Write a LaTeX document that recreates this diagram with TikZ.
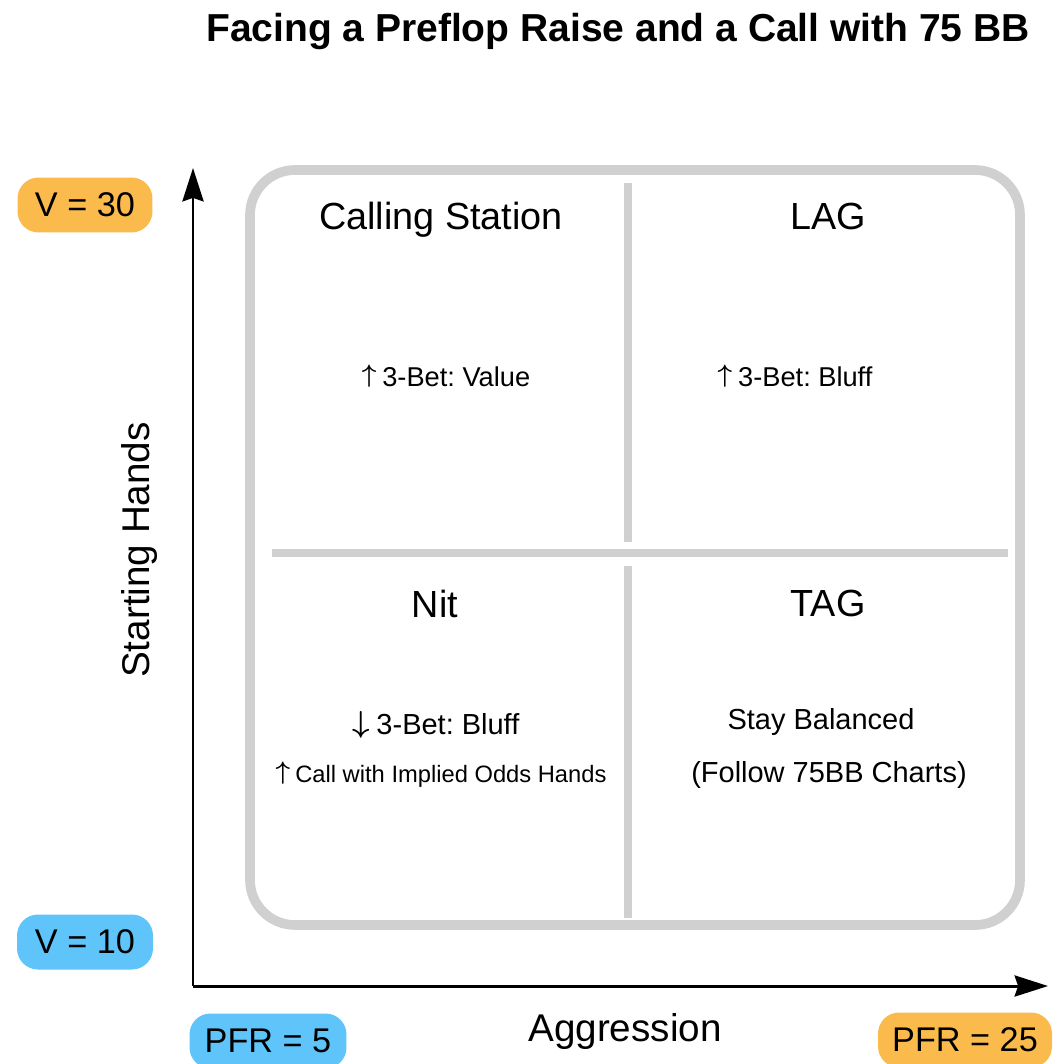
\documentclass[tikz,border=0pt]{standalone}
\usepackage{fontspec}
\setmainfont{Liberation Sans}
\usetikzlibrary{arrows.meta,positioning}
\definecolor{badgeorange}{RGB}{250,186,76}
\definecolor{badgeblue}{RGB}{94,196,250}
\definecolor{framegray}{RGB}{208,208,208}
\newcommand{\fsz}[1]{\fontsize{#1pt}{#1pt}\selectfont}
\newcommand{\upmark}{\raisebox{0.12em}{$\boldsymbol{\uparrow}$}\hspace{0.22em}}
\newcommand{\downmark}{\raisebox{0.05em}{$\boldsymbol{\downarrow}$}\hspace{0.22em}}
\usepackage{amsmath,amsbsy}
\frenchspacing
\tikzset{
  badge/.style={rounded corners=0.42cm, inner sep=0pt, minimum height=1.1cm, font=\fsz{19.5}},
  quadtitle/.style={anchor=base, font=\fsz{21.5}},
  quadtext/.style={anchor=base, font=\fsz{16.5}},
  axislabel/.style={font=\fsz{22}},
  divider/.style={framegray, line width=5pt},
}

\begin{document}
\begin{tikzpicture}[x=0.02cm, y=-0.02cm, >={Stealth[length=19pt,width=12pt,inset=2pt]}]
\useasboundingbox (0,0) rectangle (1058,1064);
\node[anchor=base, font=\bfseries\fsz{22.2}] (title) at (618,42) {Facing a Preflop Raise and a Call with 75 BB};
% axes
\coordinate (origin) at (193,986);
\coordinate (ytip) at (193,168);
\coordinate (xtip) at (1048,986);
\draw[->, line width=1.7pt] (origin) -- (ytip);
\draw[->, line width=1.7pt] (origin) -- (xtip);
\node[axislabel, rotate=90] (hands) at (140,550) {Starting Hands};
\node[axislabel] (aggr) at (625,1031) {Aggression};
% frame and quadrants
\draw[framegray, line width=5.5pt, rounded corners=0.9cm] (250,170) rectangle (1020,925);
\draw[divider] (628,183) -- (628,542);
\draw[divider] (628,566) -- (628,918);
\draw[divider] (272,553) -- (1008,553);
\node[quadtitle] (calling) at (441,230) {Calling Station};
\node[quadtitle] (lag) at (828,230) {LAG};
\node[quadtitle] (nit) at (435,617) {Nit};
\node[quadtitle] (tag) at (828,616) {TAG};
\node[quadtext, font=\fsz{15.5}] (valueup) at (446,386) {\upmark 3-Bet: Value};
\node[quadtext, font=\fsz{15.5}] (bluffup) at (795,386) {\upmark 3-Bet: Bluff};
\node[quadtext] (bluffdown) at (436,734) {\downmark 3-Bet: Bluff};
\node[quadtext, font=\fsz{13.5}] (implied) at (441,782) {\upmark Call with Implied Odds Hands};
\node[quadtext] (balanced) at (821,729) {Stay Balanced};
\node[quadtext] (charts) at (829,782) {(Follow 75BB Charts)};
% range badges
\node[badge, fill=badgeorange, minimum width=2.7cm] (v30) at (85,205) {V = 30};
\node[badge, fill=badgeblue, minimum width=2.72cm] (v10) at (85,942) {V = 10};
\node[badge, fill=badgeblue, minimum width=3.14cm] (pfr5) at (268,1041) {PFR = 5};
\node[badge, fill=badgeorange, minimum width=3.48cm] (pfr25) at (965,1040) {PFR = 25};
\end{tikzpicture}
\end{document}
